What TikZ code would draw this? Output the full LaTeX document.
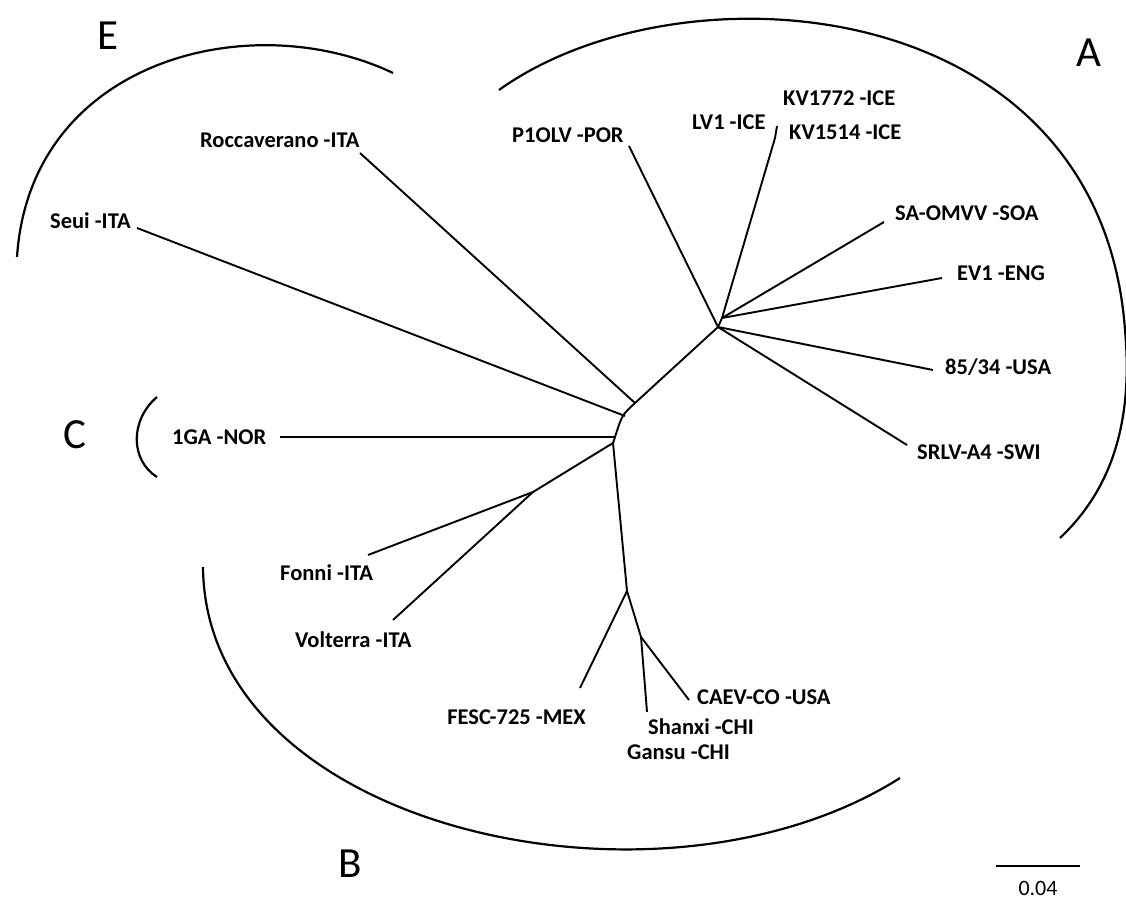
\documentclass[tikz,border=0pt]{standalone}
\usepackage{fontspec}
\setmainfont{Carlito}

\begin{document}
\begin{tikzpicture}[x=1pt,y=-1pt,
  leaf/.style={font=\fontsize{22.5}{27}\selectfont\bfseries,inner sep=0pt,text height=14.5pt,text depth=0pt},
  clade/.style={font=\fontsize{43}{50}\selectfont,inner sep=0pt},
  branch/.style={line width=1.9pt},
  ring/.style={line width=2.2pt}]
\useasboundingbox (0,0) rectangle (1126,901);

% internal nodes
\coordinate (rA) at (718,327);
\coordinate (jA) at (722,318);
\coordinate (jK) at (775,138);
\coordinate (jE) at (635,403);
\coordinate (jS) at (625,416);
\coordinate (jC) at (615,437);
\coordinate (jB) at (613,443);
\coordinate (jFV) at (533,492);
\coordinate (jB2) at (627,591);
\coordinate (jB3) at (641,637);

% leaf ends
\coordinate (rocEnd) at (360,153);
\coordinate (seuiEnd) at (137,228);
\coordinate (ngaEnd) at (280,437);
\coordinate (fonEnd) at (368,555);
\coordinate (volEnd) at (393,620);
\coordinate (fescEnd) at (580,688);
\coordinate (shaEnd) at (647,712);
\coordinate (caevEnd) at (689,700);
\coordinate (porEnd) at (629,146);
\coordinate (kvEnd) at (777,126);
\coordinate (soaEnd) at (884,222);
\coordinate (engEnd) at (942,278);
\coordinate (usaEnd) at (933,370);
\coordinate (swiEnd) at (907,445);

% labels
\node[leaf,anchor=west] (roc) at (200,140) {Roccaverano -ITA};
\node[leaf,anchor=west] (seui) at (50,221) {Seui -ITA};
\node[leaf,anchor=west] (por) at (512,135) {P1OLV -POR};
\node[leaf,anchor=west] (lv) at (692,122) {LV1 -ICE};
\node[leaf,anchor=west] (kva) at (783,98) {KV1772 -ICE};
\node[leaf,anchor=west] (kvb) at (789,132) {KV1514 -ICE};
\node[leaf,anchor=west] (soa) at (895,213) {SA-OMVV -SOA};
\node[leaf,anchor=west] (eng) at (957,273) {EV1 -ENG};
\node[leaf,anchor=west] (usa) at (945,367) {85/34 -USA};
\node[leaf,anchor=west] (swi) at (917,452) {SRLV-A4 -SWI};
\node[leaf,anchor=west] (nga) at (172,437) {1GA -NOR};
\node[leaf,anchor=west] (fon) at (280,573) {Fonni -ITA};
\node[leaf,anchor=west] (vol) at (295,640) {Volterra -ITA};
\node[leaf,anchor=east] (fesc) at (586,717) {FESC-725 -MEX};
\node[leaf,anchor=west] (caev) at (697,697) {CAEV-CO -USA};
\node[leaf,anchor=west] (sha) at (648,727) {Shanxi -CHI};
\node[leaf,anchor=west] (gan) at (627,752) {Gansu -CHI};

% tree
\draw[branch] (rA) -- (jE) .. controls (622,415) .. (jC) -- (jB) -- (jB2);
\draw[branch] (jE) -- (rocEnd);
\draw[branch] (jS) -- (seuiEnd);
\draw[branch] (jC) -- (ngaEnd);
\draw[branch] (jB) -- (jFV);
\draw[branch] (jFV) -- (fonEnd);
\draw[branch] (jFV) -- (volEnd);
\draw[branch] (jB2) -- (fescEnd);
\draw[branch] (jB2) -- (jB3);
\draw[branch] (jB3) -- (shaEnd);
\draw[branch] (jB3) -- (caevEnd);
\draw[branch] (rA) -- (porEnd);
\draw[branch] (rA) -- (jA);
\draw[branch] (jA) -- (jK) -- (kvEnd);
\draw[branch] (jA) -- (soaEnd);
\draw[branch] (jA) -- (engEnd);
\draw[branch] (rA) -- (usaEnd);
\draw[branch] (rA) -- (swiEnd);

% clade arcs
\draw[ring] (17,257) .. controls (30,60) and (250,5) .. (393,73);
\draw[ring] (499,90) .. controls (680,-40) and (1100,-10) .. (1125,330)
  .. controls (1135,440) and (1100,500) .. (1060,538);
\draw[ring] (157,397) .. controls (130,420) and (130,460) .. (157,477);
\draw[ring] (203,567) .. controls (205,830) and (660,930) .. (900,778);

\node[clade] (cE) at (108,36) {E};
\node[clade] (cA) at (1089,53) {A};
\node[clade] (cC) at (75,435) {C};
\node[clade] (cB) at (350,864) {B};

% scale bar
\coordinate (sbL) at (996,866);
\coordinate (sbR) at (1080,866);
\draw[branch] (sbL) -- (sbR);
\node[font=\fontsize{22}{26}\selectfont,inner sep=0pt] (sbT) at (1038,888) {0.04};
\end{tikzpicture}
\end{document}
